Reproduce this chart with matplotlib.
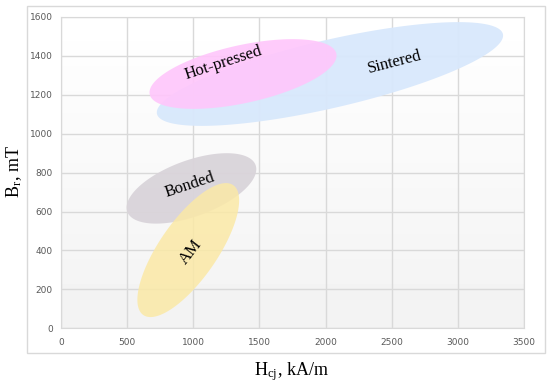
import matplotlib
matplotlib.use("Agg")
import matplotlib.pyplot as plt
import numpy as np
from matplotlib.patches import Rectangle

plt.rcParams['mathtext.fontset'] = 'stix'

# Regions: centre (Hcj, Br), half-axes in kA/m units, tilt in degrees (screen)
names = ["Sintered", "Hot-pressed", "Bonded", "AM"]
cx = [2033, 1376, 986, 962]
cy = [1307, 1307, 719, 402]
semi_a = [1342, 722, 516, 597]
semi_b = [257, 219, 212, 219]
tilt = [13.0, 12.3, 20.0, 55.3]
colors = ["#d8e8fc", "#ffc6fb", "#d9d4da", "#fbe9a6"]
alphas = [0.95, 0.9, 0.95, 0.85]

# label positions and rotations
lab_x = [2525, 1224, 975, 983]
lab_y = [1368, 1363, 736, 392]
lab_rot = [14.5, 18, 18.5, 52]

x_ticks = [0, 500, 1000, 1500, 2000, 2500, 3000, 3500]
y_ticks = [0, 200, 400, 600, 800, 1000, 1200, 1400, 1600]

W, H = 5.5, 3.88
fig = plt.figure(figsize=(W, H), dpi=100)
# outer chart frame
fig.patches.append(Rectangle((27 / 550, 1 - 353 / 388), 518 / 550, 347 / 388,
                             transform=fig.transFigure, facecolor='none',
                             edgecolor='#d9d9d9', linewidth=1.0, zorder=0))
pos = [61 / 550, 1 - 328.3 / 388, 463 / 550, 311.3 / 388]
ax = fig.add_axes(pos)
ax.set_zorder(2)

# subtle vertical gradient background
grad = np.linspace(0.95, 1.0, 100).reshape(-1, 1)
ax.imshow(grad, extent=[0, 1, 0, 1], transform=ax.transAxes, cmap='gray',
          vmin=0, vmax=1, aspect='auto', origin='lower', zorder=0)
ax.set_xlim(0, 3500)
ax.set_ylim(0, 1600)

ax.set_xticks(x_ticks)
ax.set_yticks(y_ticks)
ax.grid(True, color='#d9d9d9', linewidth=1.0, zorder=1)
ax.set_axisbelow(True)
for s in ax.spines.values():
    s.set_color('#d9d9d9')
ax.tick_params(length=0, labelsize=6.5, labelcolor='#595959')
ax.tick_params(axis='y', pad=6)
ax.tick_params(axis='x', pad=7)

# ratio of pixels-per-unit y vs x
r = (pos[3] * H / 1600) / (pos[2] * W / 3500)
t = np.linspace(0, 2 * np.pi, 300)
for i in range(len(names)):
    th = np.radians(tilt[i])
    ex = semi_a[i] * np.cos(t) * np.cos(th) - semi_b[i] * np.sin(t) * np.sin(th)
    ey = semi_a[i] * np.cos(t) * np.sin(th) + semi_b[i] * np.sin(t) * np.cos(th)
    ax.fill(cx[i] + ex, cy[i] + ey / r, color=colors[i], alpha=alphas[i],
            linewidth=0, zorder=2 + i)

for i in range(len(names)):
    ax.text(lab_x[i], lab_y[i], names[i], rotation=lab_rot[i], ha='center',
            va='center', fontsize=12, family='Liberation Serif', zorder=10,
            rotation_mode='anchor')

fig.text(14 / 550, 1 - 172 / 388, r'B$_\mathregular{r}$, mT', rotation=90,
         ha='center', va='center', fontsize=13, family='Liberation Serif')
fig.text(291 / 550, 1 - 372 / 388, r'H$_\mathregular{cj}$, kA/m',
         ha='center', va='center', fontsize=13, family='Liberation Serif')

fig.savefig('out.png', dpi=100)
